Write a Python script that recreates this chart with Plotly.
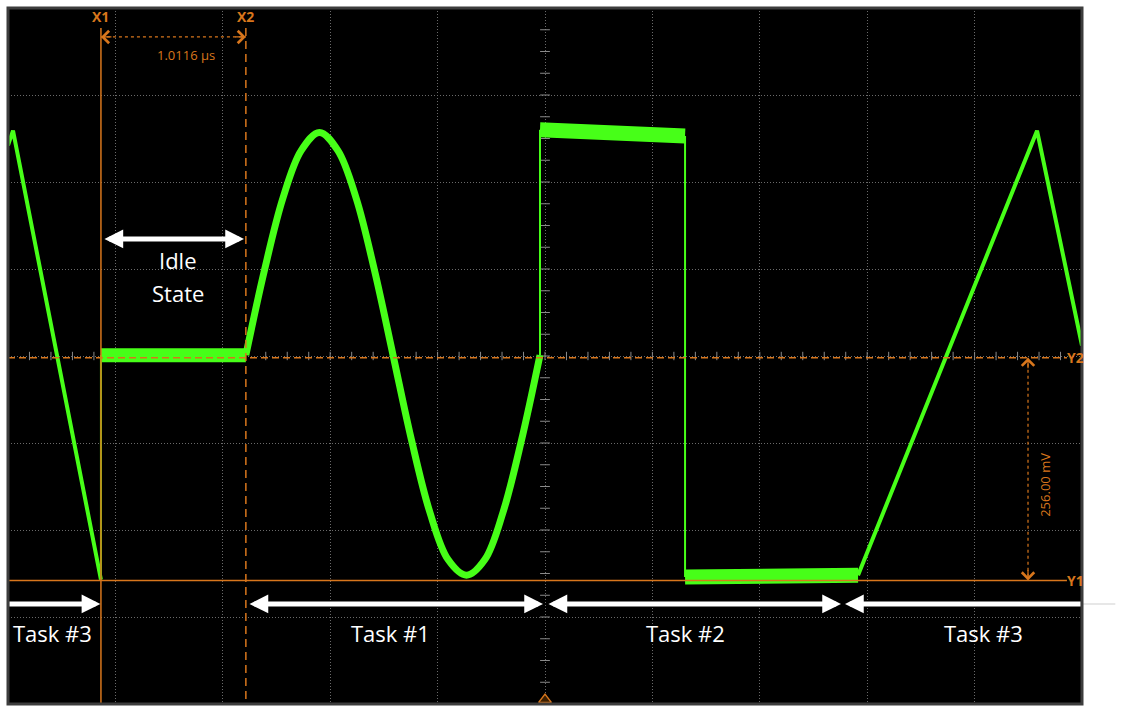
import numpy as np
import plotly.graph_objects as go

# ---------------- data read from the oscilloscope screen ----------------
# time in microseconds (0.75 us/div), voltage in mV (100 mV/div)
ramp_down_t = [0.000, 0.035, 0.649]
ramp_down_v = [242, 259, -257]

x1_jump_t = [0.649, 0.649]
x1_jump_v = [-257, 1]

idle_t = [0.649, 1.661]
idle_v = [1, 1]

sine_t = [1.661, 1.790, 1.919, 2.047, 2.175, 2.304, 2.432, 2.560, 2.689,
          2.817, 2.945, 3.073, 3.202, 3.330, 3.458, 3.587, 3.715]
sine_v = [1, 98, 181, 236, 257, 236, 181, 98, 1,
          -96, -179, -234, -252, -234, -179, -96, 1]

rise_t = [3.715, 3.715]
rise_v = [1, 260]
square_top_t = [3.715, 4.218, 4.728]
square_top_v = [260, 257, 253]
fall_t = [4.728, 4.728]
fall_v = [253, -254]
square_bot_t = [4.728, 5.330, 5.936]
square_bot_v = [-254, -253, -252]

ramp_up_t = [5.936, 7.186, 7.500]
ramp_up_v = [-252, 259, 12]

# cursors
X1_T = 0.649
X2_T = 1.661
Y2_V = -2
Y1_V = -258
dx_label = "1.0116 µs"
dy_label = "256.00 mV"

# task annotations
task_labels = ["Task #3", "Task #1", "Task #2", "Task #3"]
task_label_t = [0.314, 2.668, 4.728, 6.809]
task_arrow_y = -285
task_label_y = -318

GREEN = '#47FF18'
ORANGE = '#D8761C'
WHITE = '#FFFFFF'
FONT = 'Open Sans'

fig = go.Figure()

# center-cross minor ticks (scope graticule)
xt = np.arange(0, 7.5001, 0.15)
fig.add_trace(go.Scatter(x=xt, y=[0] * len(xt), mode='markers',
                         marker=dict(symbol='line-ns', size=6, color='#8a8a8a',
                                     line=dict(color='#8a8a8a', width=1)),
                         hoverinfo='skip', showlegend=False))
yt = np.arange(-400, 400.01, 25)
fig.add_trace(go.Scatter(x=[3.75] * len(yt), y=yt, mode='markers',
                         marker=dict(symbol='line-ew', size=7, color='#8a8a8a',
                                     line=dict(color='#8a8a8a', width=1)),
                         hoverinfo='skip', showlegend=False))


def seg(t, v, w, shape='linear'):
    fig.add_trace(go.Scatter(x=t, y=v, mode='lines',
                             line=dict(color=GREEN, width=w, shape=shape),
                             hoverinfo='skip', showlegend=False))


seg(ramp_down_t, ramp_down_v, 4)
seg(x1_jump_t, x1_jump_v, 2)
seg(idle_t, idle_v, 14)
seg(sine_t, sine_v, 7, 'spline')
seg(rise_t, rise_v, 2)
seg(square_top_t, square_top_v, 15)
seg(fall_t, fall_v, 2)
seg(square_bot_t, square_bot_v, 15)
seg(ramp_up_t, ramp_up_v, 4)

# trigger marker
fig.add_trace(go.Scatter(x=[3.75], y=[-395], mode='markers', cliponaxis=False,
                         marker=dict(symbol='triangle-up', size=11, color='#3a1e00',
                                     line=dict(color=ORANGE, width=1.5)),
                         hoverinfo='skip', showlegend=False))

shapes = [
    # X cursors
    dict(type='line', xref='x', yref='y', x0=X1_T, x1=X1_T, y0=377, y1=-400,
         line=dict(color=ORANGE, width=1.5), layer='above'),
    dict(type='line', xref='x', yref='y', x0=X2_T, x1=X2_T, y0=377, y1=-400,
         line=dict(color=ORANGE, width=1.5, dash='8px,5px'), layer='above'),
    # Y cursors
    dict(type='line', xref='x', yref='y', x0=0, x1=7.395, y0=Y2_V, y1=Y2_V,
         line=dict(color=ORANGE, width=1.5, dash='7px,4px'), layer='above'),
    dict(type='line', xref='x', yref='y', x0=0, x1=7.395, y0=Y1_V, y1=Y1_V,
         line=dict(color=ORANGE, width=1.5), layer='above'),
    # measurement lines
    dict(type='line', xref='x', yref='y', x0=X1_T, x1=X2_T, y0=366.7, y1=366.7,
         line=dict(color=ORANGE, width=1.2, dash='dot'), layer='above'),
    dict(type='line', xref='x', yref='y', x0=7.123, x1=7.123, y0=Y2_V, y1=Y1_V,
         line=dict(color=ORANGE, width=1.2, dash='dot'), layer='above'),
    # faint continuation of the last task arrow outside the screen
    dict(type='line', xref='paper', yref='paper', x0=1.0, x1=1.031, y0=0.1437, y1=0.1437,
         line=dict(color='rgba(215,215,215,0.8)', width=1.5)),
    # screen frame
    dict(type='rect', xref='paper', yref='paper', x0=0, x1=1, y0=0, y1=1,
         line=dict(color='#3d3d3d', width=3), layer='above'),
]

ann = []
# orange cursor labels
for t, s in [(X1_T, 'X1'), (X2_T, 'X2')]:
    ann.append(dict(x=t, y=390, xref='x', yref='y', text='<b>' + s + '</b>', showarrow=False,
                    font=dict(family=FONT, size=14, color=ORANGE)))
ann.append(dict(x=1.243, y=346, xref='x', yref='y', text=dx_label, showarrow=False,
                font=dict(family=FONT, size=13, color=ORANGE)))
for v, s in [(Y2_V, 'Y2'), (Y1_V, 'Y1')]:
    ann.append(dict(x=7.395, y=v, xref='x', yref='y', text='<b>' + s + '</b>', showarrow=False,
                    xanchor='left', xshift=-2,
                    font=dict(family=FONT, size=14, color=ORANGE)))
ann.append(dict(x=7.242, y=-148, xref='x', yref='y', text=dy_label, showarrow=False,
                textangle=-90, font=dict(family=FONT, size=13, color=ORANGE)))
# orange measurement arrowheads
for x, y, ax, ay in [(X1_T, 366.7, 12, 0), (X2_T, 366.7, -12, 0),
                     (7.123, Y2_V, 0, 12), (7.123, Y1_V, 0, -12)]:
    ann.append(dict(x=x, y=y, xref='x', yref='y', ax=ax, ay=ay, text='',
                    showarrow=True, arrowhead=4, arrowwidth=1.2, arrowsize=2,
                    arrowcolor=ORANGE, standoff=0))

# white arrows
def warrow(t_tip, t_tail, v, both):
    ann.append(dict(x=t_tip, y=v, ax=t_tail, ay=v, xref='x', yref='y',
                    axref='x', ayref='y', text='', showarrow=True,
                    arrowhead=2, startarrowhead=2, arrowwidth=5, arrowsize=0.75,
                    startarrowsize=0.75,
                    arrowside='end+start' if both else 'end',
                    arrowcolor=WHITE, standoff=0, startstandoff=0))


warrow(1.648, 0.663, 134.5, True)     # idle state
warrow(0.645, 0.0, task_arrow_y, False)
warrow(3.736, 1.676, task_arrow_y, True)
warrow(5.817, 3.764, task_arrow_y, True)
warrow(5.845, 7.5, task_arrow_y, False)

ann.append(dict(x=1.187, y=110, xref='x', yref='y', text='Idle', showarrow=False,
                font=dict(family=FONT, size=22, color=WHITE)))
ann.append(dict(x=1.187, y=72, xref='x', yref='y', text='State', showarrow=False,
                font=dict(family=FONT, size=22, color=WHITE)))
for t, s in zip(task_label_t, task_labels):
    ann.append(dict(x=t, y=task_label_y, xref='x', yref='y', text=s, showarrow=False,
                    font=dict(family=FONT, size=22, color=WHITE)))

fig.update_layout(
    width=1134, height=706,
    margin=dict(l=8, r=52, t=8, b=2),
    paper_bgcolor='white', plot_bgcolor='black',
    showlegend=False,
    xaxis=dict(range=[0, 7.5], dtick=0.75, tick0=0, showticklabels=False,
               showgrid=True, gridcolor='#6a6a6a', griddash='1px,2px', gridwidth=1,
               zeroline=False, showline=False, ticks='', fixedrange=True),
    yaxis=dict(range=[-400, 400], dtick=100, tick0=0, showticklabels=False,
               showgrid=True, gridcolor='#6a6a6a', griddash='1px,2px', gridwidth=1,
               zeroline=False, showline=False, ticks='', fixedrange=True),
    shapes=shapes,
    annotations=ann,
)

fig.write_html("out.html", config={'displayModeBar': False},
               post_script="document.body.style.margin='0';document.body.style.overflow='hidden';")
